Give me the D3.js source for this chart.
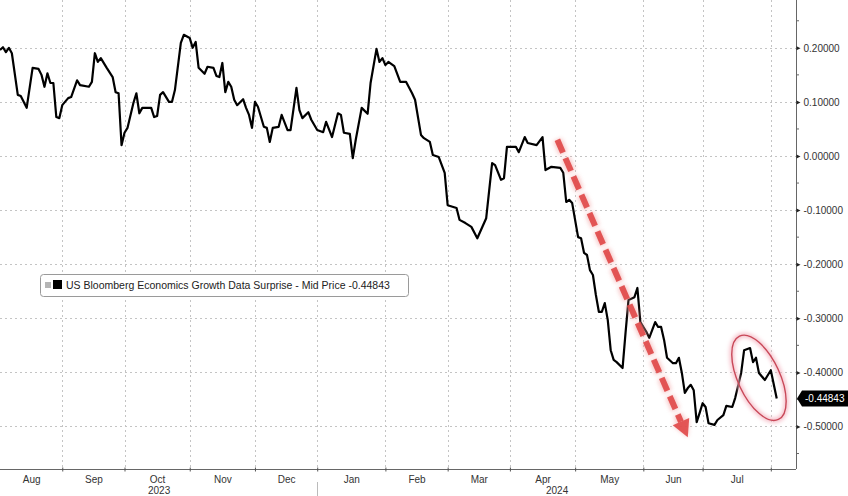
<!DOCTYPE html>
<html><head><meta charset="utf-8">
<script src="https://cdn.jsdelivr.net/npm/d3@7"></script>
<style>html,body{margin:0;padding:0;background:#fff;} svg{display:block;}</style>
</head><body>
<svg id="chart" width="848" height="496"></svg>
<script>
// ---------- data ----------
const seriesName = "US Bloomberg Economics Growth Data Surprise - Mid Price";
const lastValue = -0.44843;
const dates = [
"2023-08-03","2023-08-04","2023-08-07","2023-08-08","2023-08-09","2023-08-11","2023-08-14","2023-08-16","2023-08-18","2023-08-22",
"2023-08-23","2023-08-24","2023-08-25","2023-08-28","2023-08-29","2023-08-30","2023-08-31","2023-09-01","2023-09-05","2023-09-06",
"2023-09-08","2023-09-11","2023-09-14","2023-09-15","2023-09-18","2023-09-19","2023-09-20","2023-09-22","2023-09-26","2023-09-27",
"2023-09-28","2023-09-29","2023-10-02","2023-10-03","2023-10-05","2023-10-06","2023-10-09","2023-10-10","2023-10-13","2023-10-16",
"2023-10-17","2023-10-18","2023-10-19","2023-10-23","2023-10-24","2023-10-25","2023-10-27","2023-10-30","2023-11-01","2023-11-02",
"2023-11-03","2023-11-06","2023-11-08","2023-11-09","2023-11-13","2023-11-14","2023-11-15","2023-11-16","2023-11-17","2023-11-20",
"2023-11-21","2023-11-22","2023-11-23","2023-11-27","2023-11-28","2023-11-29","2023-11-30","2023-12-01","2023-12-04","2023-12-06",
"2023-12-07","2023-12-08","2023-12-11","2023-12-13","2023-12-14","2023-12-18","2023-12-19","2023-12-21","2023-12-22","2023-12-25",
"2023-12-27","2023-12-28","2024-01-01","2024-01-03","2024-01-04","2024-01-08","2024-01-10","2024-01-11","2024-01-12","2024-01-16",
"2024-01-17","2024-01-18","2024-01-22","2024-01-24","2024-01-25","2024-01-29","2024-01-30","2024-01-31","2024-02-01","2024-02-02",
"2024-02-06","2024-02-08","2024-02-12","2024-02-14","2024-02-15","2024-02-19","2024-02-20","2024-02-22","2024-02-23","2024-02-27",
"2024-02-29","2024-03-01","2024-03-06","2024-03-07","2024-03-11","2024-03-13","2024-03-15","2024-03-20","2024-03-22","2024-03-25",
"2024-03-27","2024-03-28","2024-03-29","2024-04-03","2024-04-04","2024-04-08","2024-04-09","2024-04-12","2024-04-16","2024-04-17",
"2024-04-19","2024-04-24","2024-04-25","2024-04-26","2024-04-29","2024-04-30","2024-05-02","2024-05-03","2024-05-06","2024-05-07",
"2024-05-08","2024-05-09","2024-05-10","2024-05-13","2024-05-14","2024-05-15","2024-05-16","2024-05-17","2024-05-20","2024-05-21",
"2024-05-23","2024-05-24","2024-05-27","2024-05-29","2024-05-30","2024-05-31","2024-06-04","2024-06-05","2024-06-07","2024-06-10",
"2024-06-11","2024-06-12","2024-06-13","2024-06-17","2024-06-18","2024-06-19","2024-06-20","2024-06-21","2024-06-24","2024-06-25",
"2024-06-26","2024-06-27","2024-06-28","2024-07-01","2024-07-02","2024-07-03","2024-07-05","2024-07-08","2024-07-10","2024-07-11",
"2024-07-15","2024-07-16","2024-07-18","2024-07-19","2024-07-23","2024-07-24","2024-07-25","2024-07-26","2024-07-30","2024-08-01",
"2024-08-05"];
const values = [
0.196,0.201,0.192,0.200,0.190,0.113,0.111,0.089,0.163,0.161,
0.150,0.128,0.153,0.135,0.135,0.072,0.070,0.094,0.107,0.109,
0.140,0.131,0.128,0.137,0.190,0.174,0.181,0.163,0.146,0.118,
0.116,0.020,0.043,0.052,0.098,0.116,0.079,0.089,0.089,0.072,
0.074,0.113,0.118,0.100,0.100,0.122,0.209,0.224,0.218,0.200,
0.211,0.163,0.152,0.165,0.163,0.148,0.146,0.172,0.118,0.137,
0.128,0.104,0.094,0.105,0.089,0.076,0.052,0.100,0.091,0.054,
0.052,0.026,0.052,0.054,0.076,0.048,0.048,0.126,0.085,0.070,
0.081,0.067,0.048,0.044,0.063,0.035,0.079,0.076,0.043,0.041,
-0.004,0.030,0.089,0.078,0.135,0.198,0.174,0.181,0.168,0.174,
0.166,0.137,0.137,0.116,0.104,0.039,0.033,0.026,0.002,-0.002,
-0.031,-0.091,-0.096,-0.118,-0.124,-0.131,-0.152,-0.115,-0.013,-0.017,
-0.044,-0.041,0.017,0.017,0.007,0.035,0.024,0.020,0.035,-0.026,
-0.020,-0.022,-0.031,-0.085,-0.081,-0.087,-0.150,-0.152,-0.179,-0.183,
-0.211,-0.220,-0.257,-0.288,-0.288,-0.272,-0.303,-0.359,-0.377,-0.381,
-0.392,-0.327,-0.266,-0.261,-0.244,-0.307,-0.325,-0.336,-0.307,-0.316,
-0.316,-0.340,-0.373,-0.383,-0.383,-0.373,-0.401,-0.438,-0.429,-0.423,
-0.433,-0.492,-0.475,-0.457,-0.464,-0.494,-0.497,-0.488,-0.479,-0.462,
-0.464,-0.447,-0.401,-0.359,-0.355,-0.381,-0.373,-0.401,-0.414,-0.396,
-0.44843];
const monthStarts = ["2023-08-01","2023-09-01","2023-10-01","2023-11-01","2023-12-01","2024-01-01","2024-02-01","2024-03-01","2024-04-01","2024-05-01","2024-06-01","2024-07-01","2024-08-01","2024-09-01"];
const monthLabels = ["Aug","Sep","Oct","Nov","Dec","Jan","Feb","Mar","Apr","May","Jun","Jul","Aug"];
const yearStarts = ["2023-01-01","2024-01-01","2025-01-01"];
const yearLabels = ["2023","2024"];
const yTicks = [-0.5,-0.4,-0.3,-0.2,-0.1,0.0,0.1,0.2];
const yMinorTicks = [-0.55,-0.45,-0.35,-0.25,-0.15,-0.05,0.05,0.15,0.25];
// annotations (data coordinates)
const arrowFrom = {date:"2024-04-23", value:0.030};
const arrowTo   = {date:"2024-06-24", value:-0.520};
const ellipseAt = {date:"2024-07-26", value:-0.410};

// ---------- setup ----------
const W = 848, H = 496;
const plotR = 796, plotB = 469;
const parse = d3.timeParse("%Y-%m-%d");
const origin = parse("2023-08-03");
function bday(d){ // business-day index from origin
  if (d <= origin) return -d3.timeDays(d, origin).filter(x=>x.getDay()%6!==0).length;
  return d3.timeDays(origin, d).filter(x=>x.getDay()%6!==0).length;
}
const fmt = v => d3.format(".5f")(v).replace("\u2212","-");
const xMax = 268.5;
const x = d3.scaleLinear().domain([0, xMax]).range([0, plotR]);
const y = d3.scaleLinear().domain([-0.5786, 0.2884]).range([plotB, 0]);
const svg = d3.select("#chart");
const FONT = "'Liberation Sans', Arial, sans-serif";

const data = dates.map((d,i)=>({i:bday(parse(d)), v:values[i]}));
const mIdx = monthStarts.map(d=>bday(parse(d)));

// gridlines
const grid = svg.append("g").attr("stroke","#c4c4c4").attr("stroke-width",1).attr("stroke-dasharray","2,3");
grid.selectAll("line.h").data(yTicks).join("line")
  .attr("x1",0).attr("x2",plotR).attr("y1",d=>Math.round(y(d))+0.5).attr("y2",d=>Math.round(y(d))+0.5);
grid.selectAll("line.v").data(mIdx.filter(v=>v>0 && v<xMax)).join("line")
  .attr("y1",0).attr("y2",plotB).attr("x1",d=>Math.round(x(d))+0.5).attr("x2",d=>Math.round(x(d))+0.5);

// bottom axis (ticks at month boundaries)
const xAxis = d3.axisBottom(x).tickValues(mIdx.filter(v=>v>0 && v<xMax)).tickSize(3).tickFormat("");
const gx = svg.append("g").attr("transform",`translate(0,${plotB+0.5})`).call(xAxis);
gx.select(".domain").attr("stroke","#666").attr("d",`M0,0H${plotR}`);
gx.selectAll(".tick line").attr("stroke","#555").attr("y1",-2).attr("y2",2);

// month labels centred in each visible month
const mMid = [];
for (let k=0;k<monthLabels.length;k++){
  const a = Math.max(0,mIdx[k]), b = Math.min(xMax,mIdx[k+1]);
  if (b-a > 12) mMid.push({c:(a+b)/2, t:monthLabels[k]});
}
const xLab = d3.axisBottom(x).tickValues(mMid.map(d=>d.c)).tickSize(0)
  .tickFormat((d,i)=>mMid[i].t);
const gxl = svg.append("g").attr("transform",`translate(0,${plotB+4})`).call(xLab);
gxl.select(".domain").remove();
gxl.selectAll("text").attr("font-family",FONT).attr("font-size",10).attr("fill","#333");

// year labels
const yIdx = yearStarts.map(d=>bday(parse(d)));
const yMid = yearLabels.map((t,k)=>({c:(Math.max(0,yIdx[k])+Math.min(xMax,yIdx[k+1]))/2, t}));
const yrAx = d3.axisBottom(x).tickValues(yMid.map(d=>d.c)).tickSize(0).tickFormat((d,i)=>yMid[i].t);
const gyr = svg.append("g").attr("transform",`translate(0,${plotB+15})`).call(yrAx);
gyr.select(".domain").remove();
gyr.selectAll("text").attr("font-family",FONT).attr("font-size",10).attr("fill","#333");
svg.append("line").attr("x1",Math.round(x(yIdx[1]))+0.5).attr("x2",Math.round(x(yIdx[1]))+0.5)
  .attr("y1",plotB+13).attr("y2",H).attr("stroke","#bbb");

// right axis
const yAxis = d3.axisRight(y).tickValues(yTicks).tickSize(0).tickPadding(7).tickFormat(fmt);
const gy = svg.append("g").attr("transform",`translate(${plotR+0.5},0)`).call(yAxis);
gy.select(".domain").attr("stroke","#666").attr("d",`M0,0V${plotB}`);
gy.selectAll("text").attr("font-family",FONT).attr("font-size",10).attr("fill","#333");
gy.selectAll(".tick").append("path").attr("d","M0,-2L4,0L0,2Z").attr("fill","#222");
svg.append("g").selectAll("line").data(yMinorTicks).join("line")
  .attr("x1",plotR).attr("x2",plotR+3).attr("y1",d=>y(d)).attr("y2",d=>y(d)).attr("stroke","#666");

// series line
const line = d3.line().x(d=>x(d.i)).y(d=>y(d.v)).curve(d3.curveLinear);
svg.append("path").datum(data).attr("d",line).attr("fill","none")
  .attr("stroke","#000").attr("stroke-width",2.2).attr("stroke-linejoin","round");

// last value tag
const ly = y(lastValue);
svg.append("path").attr("d",`M${plotR+1},${ly}L${plotR+6},${ly-8}H${W}V${ly+8}H${plotR+6}Z`).attr("fill","#000");
svg.append("text").attr("x",plotR+9).attr("y",ly).attr("dy","0.35em").attr("font-family",FONT)
  .attr("font-size",10).attr("fill","#fff").text(fmt(lastValue));

// legend
const lg = svg.append("g");
lg.append("rect").attr("x",40.5).attr("y",274.5).attr("width",368).attr("height",22).attr("rx",3)
  .attr("fill","#fff").attr("stroke","#9a9a9a");
lg.append("rect").attr("x",45).attr("y",282).attr("width",6).attr("height",6).attr("fill","#b5b5b5");
lg.append("rect").attr("x",53).attr("y",280).attr("width",9).attr("height",9).attr("fill","#000");
lg.append("text").attr("x",66).attr("y",289).attr("font-family",FONT).attr("font-size",10.5).attr("fill","#222")
  .text(seriesName + " " + fmt(lastValue));

// annotations
const defs = svg.append("defs");
defs.append("filter").attr("id","glow").attr("x","-20%").attr("y","-20%").attr("width","140%").attr("height","140%")
  .append("feGaussianBlur").attr("stdDeviation",2.2);
const ax1 = x(bday(parse(arrowFrom.date))), ay1 = y(arrowFrom.value);
const ax2 = x(bday(parse(arrowTo.date))), ay2 = y(arrowTo.value);
const ang = Math.atan2(ay2-ay1, ax2-ax1);
const headL = 17, headW = 9;
const bx = ax2 - headL*Math.cos(ang), by = ay2 - headL*Math.sin(ang);
const nx = -Math.sin(ang), ny = Math.cos(ang);
const head = `M${ax2},${ay2}L${bx+nx*headW},${by+ny*headW}L${bx-nx*headW},${by-ny*headW}Z`;
const ar = svg.append("g");
ar.append("line").attr("x1",ax1).attr("y1",ay1).attr("x2",bx).attr("y2",by)
  .attr("stroke","#f2a0a0").attr("stroke-width",9).attr("stroke-dasharray","15,5").attr("opacity",0.6).attr("filter","url(#glow)");
ar.append("path").attr("d",head).attr("fill","#f2a0a0").attr("opacity",0.6).attr("filter","url(#glow)");
ar.append("line").attr("x1",ax1).attr("y1",ay1).attr("x2",bx).attr("y2",by)
  .attr("stroke","#e04848").attr("stroke-width",6).attr("stroke-dasharray","14,6").attr("opacity",0.9);
ar.append("path").attr("d",head).attr("fill","#e04848").attr("opacity",0.9);

const ex = x(bday(parse(ellipseAt.date))), ey = y(ellipseAt.value);
svg.append("ellipse").attr("cx",ex).attr("cy",ey).attr("rx",21).attr("ry",46)
  .attr("transform",`rotate(-25,${ex},${ey})`).attr("fill","none").attr("stroke","#f4b4c0")
  .attr("stroke-width",4).attr("filter","url(#glow)");
svg.append("ellipse").attr("cx",ex).attr("cy",ey).attr("rx",21).attr("ry",46)
  .attr("transform",`rotate(-25,${ex},${ey})`).attr("fill","none").attr("stroke","#c84858").attr("stroke-width",1.4);
</script>
</body></html>
